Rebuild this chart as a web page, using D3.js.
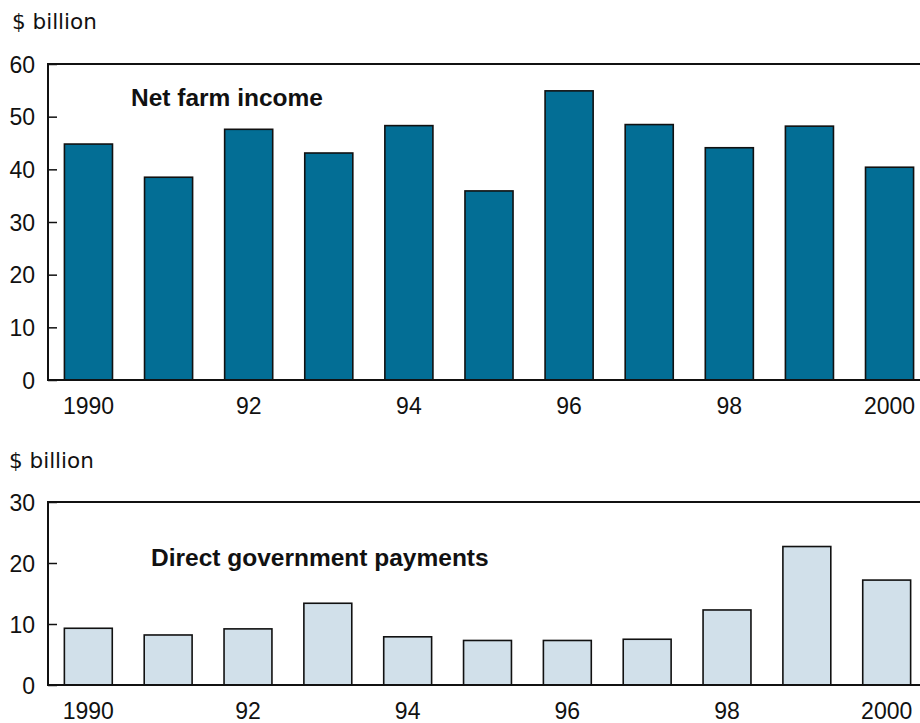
<!DOCTYPE html>
<html><head><meta charset="utf-8">
<script src="https://cdn.jsdelivr.net/npm/d3@7"></script>
<style>body{margin:0;background:#fff;} svg{display:block;}</style>
</head><body>
<svg id="c" width="920" height="723"></svg>
<script>
const years = [1990,1991,1992,1993,1994,1995,1996,1997,1998,1999,2000];
const netFarmIncome = [44.8,38.5,47.6,43.1,48.3,35.9,54.9,48.5,44.1,48.2,40.4];
const directPayments = [9.3,8.2,9.2,13.4,7.9,7.3,7.3,7.5,12.3,22.7,17.2];
const labeledYears = [1990,1992,1994,1996,1998,2000];
const yearLabels = ["1990","92","94","96","98","2000"];
const topTicks = [0,10,20,30,40,50,60];
const bottomTicks = [0,10,20,30];

const svg = d3.select("#c");
const tickFont = "'Liberation Sans', Arial, sans-serif";

function panel(cfg){
  const g = svg.append("g");
  const x = d3.scaleBand().domain(years).range([cfg.left, cfg.right]).paddingInner(0.4).paddingOuter(0.205);
  const y = d3.scaleLinear().domain(cfg.domain).range([cfg.bottom, cfg.top]);
  // unit label
  g.append("text").attr("x", cfg.unitX).attr("y", cfg.unitY)
    .attr("font-family","'DejaVu Sans', sans-serif").attr("font-size",21.5).attr("fill","#111")
    .text("$ billion");
  // bars
  g.selectAll("rect.bar").data(cfg.values).join("rect").attr("class","bar")
    .attr("x",(d,i)=>x(years[i])).attr("width",x.bandwidth())
    .attr("y",d=>y(d)).attr("height",d=>y(0)-y(d))
    .attr("fill",cfg.fill).attr("stroke","#111").attr("stroke-width",1.6);
  // y axis
  const ya = g.append("g").attr("transform",`translate(${cfg.left},0)`)
    .call(d3.axisLeft(y).tickValues(cfg.ticks).tickSizeInner(-9).tickSizeOuter(0).tickPadding(13));
  ya.select(".domain").remove();
  ya.selectAll("line").attr("stroke","#111").attr("stroke-width",1.5);
  ya.selectAll("text").attr("font-family",tickFont).attr("font-size",23).attr("fill","#111").attr("dy","0.36em");
  // x axis
  const xa = g.append("g").attr("transform",`translate(0,${cfg.bottom})`)
    .call(d3.axisBottom(x).tickValues(labeledYears).tickSize(0).tickPadding(18)
      .tickFormat(d=>yearLabels[labeledYears.indexOf(d)]));
  xa.select(".domain").remove();
  xa.selectAll("text").attr("font-family",tickFont).attr("font-size",23).attr("fill","#111");
  // frame lines
  g.append("line").attr("x1",cfg.left).attr("x2",cfg.right).attr("y1",cfg.top).attr("y2",cfg.top).attr("stroke","#111").attr("stroke-width",2);
  g.append("line").attr("x1",cfg.left).attr("x2",cfg.right).attr("y1",cfg.bottom).attr("y2",cfg.bottom).attr("stroke","#111").attr("stroke-width",2);
  g.append("line").attr("x1",cfg.left).attr("x2",cfg.left).attr("y1",cfg.top-1).attr("y2",cfg.bottom+1).attr("stroke","#111").attr("stroke-width",2);
  // title
  g.append("text").attr("x",cfg.titleX).attr("y",cfg.titleY)
    .attr("font-family",tickFont).attr("font-weight","bold").attr("font-size",24.5).attr("fill","#111")
    .text(cfg.title);
}

panel({values:netFarmIncome, domain:[0,60], ticks:topTicks, left:48, right:930, top:64, bottom:380,
  fill:"#036e95", unitX:12, unitY:29, title:"Net farm income", titleX:131, titleY:106});
panel({values:directPayments, domain:[0,30], ticks:bottomTicks, left:48, right:927, top:502, bottom:685,
  fill:"#d1e0ea", unitX:9, unitY:468, title:"Direct government payments", titleX:151, titleY:566});
</script>
</body></html>
